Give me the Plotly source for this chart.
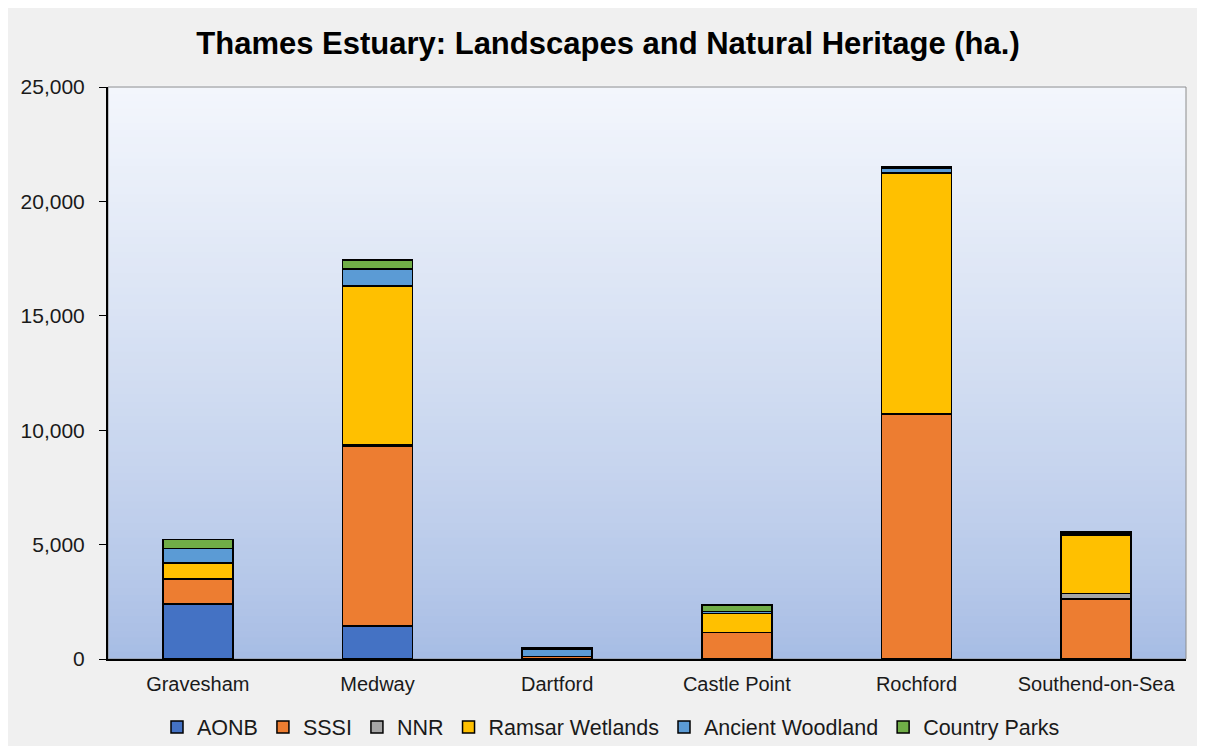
import plotly.graph_objects as go

categories = ["Gravesham", "Medway", "Dartford", "Castle Point", "Rochford", "Southend-on-Sea"]
aonb = [2400, 1440, 0, 0, 0, 0]
sssi = [1100, 7870, 100, 1150, 10710, 2620]
nnr = [0, 50, 0, 0, 0, 250]
ramsar = [700, 6950, 0, 830, 10530, 2550]
ancient_woodland = [640, 730, 340, 100, 200, 60]
country_parks = [380, 390, 60, 270, 60, 60]

series = [
    ("AONB", aonb, "#4472c4"),
    ("SSSI", sssi, "#ed7d31"),
    ("NNR", nnr, "#a5a5a5"),
    ("Ramsar Wetlands", ramsar, "#ffc000"),
    ("Ancient Woodland", ancient_woodland, "#5b9bd5"),
    ("Country Parks", country_parks, "#70ad47"),
]

fig = go.Figure()
for name, vals, col in series:
    fig.add_trace(go.Bar(
        x=categories, y=vals, name=name,
        marker=dict(color=col, line=dict(color="black", width=1.5)),
    ))

font = "Liberation Sans, Arial, sans-serif"

shapes = []
# gradient plot background
n = 80
top = (243, 246, 252)
bot = (166, 188, 228)
for i in range(n):
    t = i / (n - 1)
    f = t ** 0.8
    c = tuple(round(bot[k] + (top[k] - bot[k]) * f) for k in range(3))
    shapes.append(dict(type="rect", xref="x domain", yref="y domain",
                       x0=0, x1=1, y0=i / n, y1=(i + 1) / n + 0.002,
                       fillcolor="rgb(%d,%d,%d)" % c, line=dict(width=0), layer="below"))
shapes.append(dict(type="rect", xref="x domain", yref="y domain", x0=0, x1=1, y0=0, y1=1,
                   line=dict(color="#8c8c8c", width=1), layer="below"))

W, H = 1190, 738
fig.update_layout(
    barmode="stack",
    bargap=0.61,
    width=W, height=H,
    margin=dict(l=100, r=12, t=79, b=87),
    paper_bgcolor="#f0f0f0",
    plot_bgcolor="rgba(0,0,0,0)",
    shapes=shapes,
    title=dict(text="<b>Thames Estuary: Landscapes and Natural Heritage (ha.)</b>",
               x=(608 - 8) / W, xref="container", y=1 - 35 / H, yref="container",
               xanchor="center", yanchor="middle",
               font=dict(family=font, size=31, color="black")),
    font=dict(family=font, color="#1a1a1a"),
    legend=dict(orientation="h", xref="container", x=(611 - 8) / W, xanchor="center",
                yref="container", y=1 - 719 / H, yanchor="middle",
                font=dict(family=font, size=21.5, color="#1a1a1a"), traceorder="normal",
                itemwidth=30, bgcolor="rgba(0,0,0,0)"),
    xaxis=dict(showline=True, linecolor="black", linewidth=2, ticks="",
               tickfont=dict(family=font, size=20, color="#1a1a1a"), showgrid=False,
               ticklabelstandoff=6),
    yaxis=dict(range=[0, 25000], dtick=5000, tickformat=",d", showline=True,
               linecolor="black", linewidth=2, ticks="outside", ticklen=7, tickcolor="black",
               tickfont=dict(family=font, size=21, color="#1a1a1a"), showgrid=False,
               zeroline=False, ticklabelstandoff=10),
)

fig.write_html("out.html")
